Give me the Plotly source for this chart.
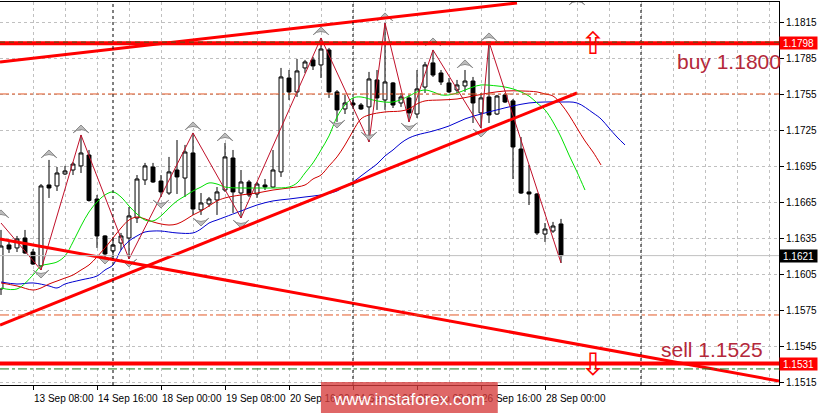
import plotly.graph_objects as go

# ---- candles (H4 bars, index 0 = first visible bar) ----
bar_idx = list(range(71))
opens = [1.15932, 1.16299, 1.16274, 1.16357, 1.16240, 1.16124, 1.16799, 1.16791, 1.16891, 1.16924,
         1.16958, 1.17049, 1.16682, 1.16374, 1.16249, 1.16315, 1.16357, 1.16524, 1.16841, 1.16949,
         1.16832, 1.16732, 1.16924, 1.16857, 1.17066, 1.16591, 1.16641, 1.16674, 1.16757, 1.17024,
         1.16732, 1.16824, 1.16724, 1.16799, 1.16782, 1.16908, 1.17691, 1.17575, 1.17775, 1.17842,
         1.17800, 1.17925, 1.17575, 1.17433, 1.17483, 1.17466, 1.17450, 1.17675, 1.17508, 1.17650,
         1.17483, 1.17525, 1.17391, 1.17616, 1.17817, 1.17733, 1.17650, 1.17591, 1.17625, 1.17666,
         1.17400, 1.17533, 1.17391, 1.17550, 1.17500, 1.17099, 1.16741, 1.16724, 1.16390, 1.16415,
         1.16474]
highs = [1.16424, 1.16340, 1.16374, 1.16424, 1.16265, 1.16807, 1.17008, 1.16949, 1.16958, 1.16991,
         1.17216, 1.17091, 1.16716, 1.16380, 1.16365, 1.16399, 1.16616, 1.16882, 1.16983, 1.16983,
         1.16882, 1.17033, 1.17174, 1.17133, 1.17233, 1.16732, 1.16699, 1.16782, 1.17149, 1.17091,
         1.16924, 1.16841, 1.16824, 1.16849, 1.17091, 1.17775, 1.17758, 1.17850, 1.17842, 1.17867,
         1.18025, 1.17942, 1.17591, 1.17550, 1.17525, 1.17483, 1.17742, 1.17758, 1.18150, 1.17658,
         1.17566, 1.17550, 1.17758, 1.17825, 1.17925, 1.17758, 1.17691, 1.17675, 1.17758, 1.17700,
         1.17566, 1.17992, 1.17550, 1.17566, 1.17516, 1.17199, 1.16966, 1.16732, 1.16482, 1.16491,
         1.16516]
lows = [1.15882, 1.16232, 1.16240, 1.16224, 1.16132, 1.16090, 1.16691, 1.16749, 1.16882, 1.16882,
        1.16899, 1.16660, 1.16274, 1.16199, 1.16199, 1.16257, 1.16182, 1.16482, 1.16799, 1.16816,
        1.16699, 1.16716, 1.16724, 1.16699, 1.16549, 1.16549, 1.16616, 1.16549, 1.16741, 1.16566,
        1.16524, 1.16699, 1.16691, 1.16757, 1.16774, 1.16866, 1.17508, 1.17533, 1.17733, 1.17758,
        1.17691, 1.17525, 1.17325, 1.17391, 1.17450, 1.17425, 1.17158, 1.17425, 1.17425, 1.17441,
        1.17450, 1.17325, 1.17358, 1.17566, 1.17700, 1.17633, 1.17566, 1.17566, 1.17575, 1.17316,
        1.17274, 1.17316, 1.17383, 1.17483, 1.16849, 1.16724, 1.16632, 1.16382, 1.16324, 1.16399,
        1.16149]
closes = [1.16290, 1.16265, 1.16349, 1.16232, 1.16140, 1.16791, 1.16774, 1.16899, 1.16916, 1.16974,
          1.17066, 1.16670, 1.16374, 1.16224, 1.16299, 1.16374, 1.16541, 1.16849, 1.16958, 1.16824,
          1.16741, 1.16908, 1.16866, 1.17074, 1.16599, 1.16649, 1.16682, 1.16741, 1.17033, 1.16741,
          1.16824, 1.16716, 1.16807, 1.16782, 1.16924, 1.17700, 1.17575, 1.17750, 1.17825, 1.17792,
          1.17933, 1.17575, 1.17425, 1.17483, 1.17466, 1.17433, 1.17683, 1.17525, 1.17658, 1.17466,
          1.17533, 1.17400, 1.17600, 1.17800, 1.17716, 1.17658, 1.17575, 1.17633, 1.17666, 1.17483,
          1.17525, 1.17383, 1.17541, 1.17491, 1.17116, 1.16732, 1.16724, 1.16399, 1.16432, 1.16457,
          1.16210]

# ---- Alligator lines (extend past last bar because of shifts) ----
jaw_idx = [0, 2, 4, 6, 7, 8, 10, 12, 13, 14, 15, 16, 17, 18, 19, 20, 22, 24, 25, 26,
           27, 28, 30, 32, 34, 36, 38, 40, 42, 43, 44, 45, 46, 47, 48, 49, 50, 51, 52, 54,
           56, 58, 60, 62, 64, 66, 68, 70, 72, 74, 75, 76, 77, 78]
jaw_val = [1.15990, 1.15973, 1.15982, 1.15957, 1.15940, 1.15973, 1.16007, 1.16040, 1.16090, 1.16132,
           1.16257, 1.16332, 1.16374, 1.16407, 1.16415, 1.16415, 1.16399, 1.16399, 1.16432, 1.16482,
           1.16507, 1.16532, 1.16582, 1.16632, 1.16666, 1.16682, 1.16699, 1.16716, 1.16749, 1.16791,
           1.16824, 1.16874, 1.16924, 1.16974, 1.17041, 1.17091, 1.17149, 1.17191, 1.17216, 1.17249,
           1.17291, 1.17350, 1.17391, 1.17425, 1.17458, 1.17483, 1.17491, 1.17491, 1.17483, 1.17400,
           1.17350, 1.17274, 1.17199, 1.17133]

teeth_idx = [0, 2, 4, 5, 6, 7, 8, 9, 10, 11, 12, 13, 14, 15, 16, 17, 18, 19, 20, 21,
             22, 23, 24, 25, 26, 27, 28, 30, 32, 34, 36, 38, 39, 40, 41, 42, 43, 44, 45, 46,
             48, 50, 51, 52, 53, 55, 57, 59, 61, 63, 65, 67, 68, 69, 70, 71, 72, 73, 74, 75]
teeth_val = [1.15982, 1.15957, 1.15923, 1.15940, 1.15973, 1.15998, 1.16023, 1.16048, 1.16090, 1.16132,
             1.16199, 1.16274, 1.16357, 1.16440, 1.16507, 1.16532, 1.16516, 1.16491, 1.16474, 1.16465,
             1.16474, 1.16507, 1.16549, 1.16582, 1.16624, 1.16666, 1.16691, 1.16716, 1.16732, 1.16757,
             1.16774, 1.16799, 1.16849, 1.16882, 1.16958, 1.17033, 1.17133, 1.17249, 1.17350, 1.17383,
             1.17408, 1.17416, 1.17433, 1.17475, 1.17500, 1.17508, 1.17516, 1.17541, 1.17566, 1.17583,
             1.17583, 1.17575, 1.17558, 1.17541, 1.17475, 1.17383, 1.17274, 1.17166, 1.17074, 1.16966]

lips_idx = [0, 2, 4, 5, 6, 7, 8, 9, 10, 11, 12, 13, 14, 15, 16, 17, 18, 19, 20, 21,
            22, 23, 24, 25, 26, 27, 28, 30, 32, 34, 36, 37, 38, 39, 40, 41, 42, 43, 44, 45,
            47, 49, 51, 52, 53, 54, 55, 56, 57, 58, 59, 60, 62, 63, 64, 65, 66, 67, 68, 69,
            70, 71, 72, 73]
lips_val = [1.15940, 1.15932, 1.16048, 1.16124, 1.16140, 1.16157, 1.16207, 1.16324, 1.16457, 1.16574,
            1.16657, 1.16716, 1.16741, 1.16699, 1.16624, 1.16557, 1.16507, 1.16499, 1.16541, 1.16607,
            1.16666, 1.16707, 1.16749, 1.16782, 1.16816, 1.16807, 1.16782, 1.16774, 1.16774, 1.16774,
            1.16782, 1.16816, 1.16899, 1.16983, 1.17091, 1.17208, 1.17366, 1.17466, 1.17525, 1.17533,
            1.17500, 1.17491, 1.17541, 1.17575, 1.17591, 1.17575, 1.17550, 1.17550, 1.17566, 1.17591,
            1.17616, 1.17633, 1.17625, 1.17616, 1.17600, 1.17575, 1.17541, 1.17483, 1.17425, 1.17325,
            1.17199, 1.17049, 1.16908, 1.16757]

# ---- ZigZag swing points ----
zz_idx = [0, 5, 10, 16, 24, 30, 40, 46, 48, 51, 54, 60, 61, 70]
zz_val = [1.16482, 1.16090, 1.17216, 1.16182, 1.17233, 1.16524, 1.18025, 1.17158, 1.18150,
          1.17325, 1.17925, 1.17274, 1.17992, 1.16149]

# ---- fractal markers ----
frac_up_idx = [0, 6, 10, 24, 28, 40, 48, 54, 58, 61, 72]
frac_up_val = [1.16591, 1.17091, 1.17299, 1.17325, 1.17233, 1.18117, 1.18234, 1.18025, 1.17842,
               1.18067, 1.18367]
frac_dn_idx = [5, 13, 16, 20, 25, 30, 42, 46, 51, 60]
frac_dn_val = [1.16023, 1.16140, 1.16115, 1.16607, 1.16457, 1.16440, 1.17274, 1.17174, 1.17249,
               1.17199]

# ---- drawn objects ----
trend_upper_x = [-0.125, 64.5]
trend_upper_y = [1.17825, 1.18317]
trend_support_x = [-0.125, 72.0]
trend_support_y = [1.15631, 1.17566]
trend_down_x = [-0.125, 97.25]
trend_down_y = [1.16349, 1.15164]

buy_level = 1.1798
sell_level = 1.1531
last_price = 1.1621
dashdot_levels = [1.17558, 1.15715]
green_level = 1.15265
week_starts = [14, 44, 80]

x_tick_idx = [4, 12, 20, 28, 36, 44, 52, 60, 68]
x_tick_text = ["13 Sep 08:00", "14 Sep 16:00", "18 Sep 00:00", "19 Sep 08:00", "20 Sep 16:00",
               "24 Sep 00:00", "25 Sep 08:00", "26 Sep 16:00", "28 Sep 00:00"]
y_ticks = [1.1515, 1.1545, 1.1575, 1.1605, 1.1635, 1.1665, 1.1695, 1.1725, 1.1755, 1.1785, 1.1815]

FONT = "Liberation Sans, Arial, sans-serif"
GRID = "#c0c0c0"

fig = go.Figure()

# grid-level horizontal lines
fig.add_hline(y=last_price, line=dict(color="#c0c0c0", width=1))
for lv in dashdot_levels:
    fig.add_hline(y=lv, line=dict(color="#e25a28", width=1, dash="dashdot"))
fig.add_hline(y=green_level, line=dict(color="#1e7b1e", width=1, dash="dashdot"))
for ws in week_starts:
    fig.add_vline(x=ws, line=dict(color="black", width=1, dash="3px,3px"))

fig.add_trace(
    go.Candlestick(
        x=bar_idx,
        open=opens,
        high=highs,
        low=lows,
        close=closes,
        increasing=dict(line=dict(color="black", width=1), fillcolor="white"),
        decreasing=dict(line=dict(color="black", width=1), fillcolor="black"),
        whiskerwidth=0,
        hoverinfo="skip",
        showlegend=False,
    )
)

# alligator
fig.add_trace(go.Scatter(x=jaw_idx, y=jaw_val, mode="lines", line=dict(color="#0000d0", width=1, shape="spline"),
                         hoverinfo="skip"))
fig.add_trace(go.Scatter(x=teeth_idx, y=teeth_val, mode="lines", line=dict(color="#d00000", width=1, shape="spline"),
                         hoverinfo="skip"))
fig.add_trace(go.Scatter(x=lips_idx, y=lips_val, mode="lines", line=dict(color="#00e000", width=1, shape="spline"),
                         hoverinfo="skip"))

# zigzag
fig.add_trace(go.Scatter(x=zz_idx, y=zz_val, mode="lines", line=dict(color="#c0102a", width=1),
                         hoverinfo="skip"))

# fractals
fig.add_trace(go.Scatter(x=frac_up_idx, y=frac_up_val, mode="markers",
                         marker=dict(symbol="arrow-wide", size=11, angle=0, color="#bcbcbc",
                                     line=dict(color="#8c8c8c", width=1)),
                         hoverinfo="skip"))
fig.add_trace(go.Scatter(x=frac_dn_idx, y=frac_dn_val, mode="markers",
                         marker=dict(symbol="arrow-wide", size=11, angle=180, color="#bcbcbc",
                                     line=dict(color="#8c8c8c", width=1)),
                         hoverinfo="skip"))

# trend lines
for tx, ty in [(trend_upper_x, trend_upper_y), (trend_support_x, trend_support_y),
               (trend_down_x, trend_down_y)]:
    fig.add_trace(go.Scatter(x=tx, y=ty, mode="lines", line=dict(color="#ff0000", width=3),
                             hoverinfo="skip"))

# buy / sell levels
fig.add_hline(y=buy_level, line=dict(color="#ff0000", width=4))
fig.add_hline(y=buy_level + 0.0001, line=dict(color="#8b3a10", width=1.5, dash="5px,4px"))
fig.add_hline(y=sell_level, line=dict(color="#ff0000", width=4))

# hollow arrows
fig.add_annotation(x=74, y=buy_level, text="\u21e7", showarrow=False,
                   font=dict(family="DejaVu Sans", size=31, color="#ff0000"))
fig.add_annotation(x=74, y=sell_level, text="\u21e9", showarrow=False,
                   font=dict(family="DejaVu Sans", size=31, color="#ff0000"))

# labels
fig.add_annotation(x=84.25, y=1.17825, text="buy 1.1800", showarrow=False, xanchor="left",
                   font=dict(family=FONT, size=21, color="#b4283a"))
fig.add_annotation(x=82.25, y=1.15423, text="sell 1.1525", showarrow=False, xanchor="left",
                   font=dict(family=FONT, size=21, color="#b4283a"))

# price boxes on the right scale
for val, bg in [(buy_level, "#ff0000"), (last_price, "#000000"), (sell_level, "#ff0000")]:
    fig.add_annotation(x=1, xref="paper", y=val, text=f"{val:.4f}", showarrow=False,
                       xanchor="left", yanchor="middle", xshift=0, width=37, height=12, align="center",
                       borderpad=0, bgcolor=bg, font=dict(family=FONT, size=10, color="white"))

# partially hidden first time label
fig.add_annotation(x=-4, y=0, yref="paper", text="12 Sep 00:00", showarrow=False,
                   xanchor="left", yanchor="top", yshift=-7, xshift=1,
                   font=dict(family=FONT, size=10, color="black"))

# watermark
fig.add_shape(type="rect", xref="paper", yref="paper", x0=0.412, x1=0.639, y0=-0.075, y1=0.008,
              fillcolor="rgba(214,60,60,0.78)", line=dict(width=0), layer="above")
fig.add_annotation(x=0.5255, xref="paper", y=-0.037, yref="paper", text="www.instaforex.com",
                   showarrow=False, xanchor="center", yanchor="middle",
                   font=dict(family=FONT, size=17, color="white"))

fig.update_layout(
    width=818,
    height=413,
    margin=dict(l=0, r=39, t=2, b=28),
    paper_bgcolor="white",
    plot_bgcolor="white",
    showlegend=False,
    hovermode=False,
    xaxis=dict(
        range=[-0.125, 97.25],
        rangeslider=dict(visible=False),
        tickvals=x_tick_idx,
        ticktext=x_tick_text,
        ticklabelposition="outside right",
        ticklabelstandoff=4,
        tickangle=0,
        automargin=False,
        ticks="outside",
        ticklen=4,
        tickcolor="black",
        tickfont=dict(family=FONT, size=10, color="black"),
        showgrid=True,
        gridcolor=GRID,
        griddash="3px,3px",
        minor=dict(dtick=4, tick0=0, showgrid=True, gridcolor=GRID, griddash="3px,3px"),
        showline=True,
        linecolor="black",
        linewidth=1,
        mirror=True,
        zeroline=False,
    ),
    yaxis=dict(
        side="right",
        range=[1.15131, 1.18325],
        tickvals=y_ticks,
        tickformat=".4f",
        automargin=False,
        ticks="outside",
        ticklen=4,
        tickcolor="black",
        tickfont=dict(family=FONT, size=10, color="black"),
        showgrid=True,
        gridcolor=GRID,
        griddash="3px,3px",
        showline=True,
        linecolor="black",
        linewidth=1,
        mirror=True,
        zeroline=False,
    ),
)

fig.write_html(
    "out.html",
    config={"displayModeBar": False},
    post_script="document.body.style.margin='0';",
)
